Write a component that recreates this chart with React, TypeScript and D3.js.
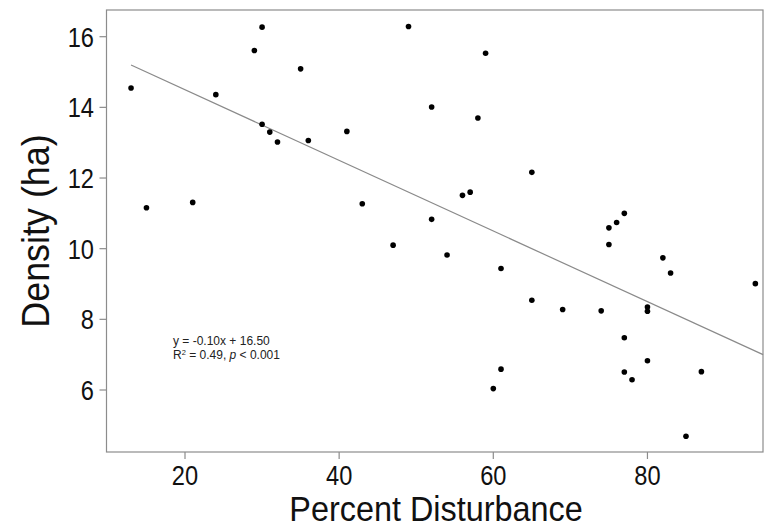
import React from "react";
import * as d3 from "d3";

const disturbance = [13, 15, 21, 24, 29, 30, 30, 31, 32, 35, 36, 41, 43, 47, 49, 52, 52, 54, 56, 57, 58, 59, 60, 61, 61, 65, 65, 69, 74, 75, 75, 76, 77, 77, 77, 78, 80, 80, 80, 82, 83, 85, 87, 94];
const density = [14.55, 11.16, 11.31, 14.36, 15.61, 16.27, 13.52, 13.3, 13.02, 15.09, 13.06, 13.32, 11.27, 10.1, 16.29, 14.01, 10.83, 9.82, 11.51, 11.6, 13.7, 15.53, 6.04, 9.44, 6.59, 12.16, 8.54, 8.28, 8.24, 10.59, 10.12, 10.74, 11.0, 7.48, 6.51, 6.29, 8.35, 8.23, 6.83, 9.74, 9.31, 4.69, 6.52, 9.01];
const xTicks = [20, 40, 60, 80];
const yTicks = [6, 8, 10, 12, 14, 16];
const slope = -0.1;
const intercept = 16.5;
const fitRange = [13, 95];

const W = 769;
const H = 529;
const left = 106.5;
const right = 763;
const top = 10;
const bottom = 452;

export default function App() {
  const x = d3.scaleLinear().domain([20, 60]).range([185, 493.3]);
  const y = d3.scaleLinear().domain([16, 6]).range([36.7, 390]);
  const gray = "#8c8c8c";
  const font = "'Liberation Sans', Arial, sans-serif";
  const line = d3
    .line<number>()
    .x((d) => x(d))
    .y((d) => y(slope * d + intercept));
  return (
    <svg width={W} height={H} style={{ position: "absolute", left: 0, top: 0, background: "#fff" }} fontFamily={font}>
      <rect x={left} y={top} width={right - left} height={bottom - top} fill="none" stroke={gray} strokeWidth={1.2} />
      {xTicks.map((t) => (
        <g key={"x" + t}>
          <line x1={x(t)} x2={x(t)} y1={bottom} y2={bottom + 7} stroke={gray} strokeWidth={1.2} />
          <g transform={`translate(${x(t)},485) scale(0.86,1)`}>
            <text textAnchor="middle" fontSize={27.5} fill="#111">
              {t}
            </text>
          </g>
        </g>
      ))}
      {yTicks.map((t) => (
        <g key={"y" + t}>
          <line x1={left - 7} x2={left} y1={y(t)} y2={y(t)} stroke={gray} strokeWidth={1.2} />
          <g transform={`translate(94,${y(t)}) scale(0.86,1)`}>
            <text dy="0.36em" textAnchor="end" fontSize={27.5} fill="#111">
              {t}
            </text>
          </g>
        </g>
      ))}
      <path d={line(fitRange) || ""} fill="none" stroke="#8a8a8a" strokeWidth={1.2} />
      {disturbance.map((d, i) => (
        <circle key={i} cx={x(d)} cy={y(density[i])} r={2.8} fill="#000" />
      ))}
      <text x={173} y={345} fontSize={12} fill="#222">
        y = -0.10x + 16.50
      </text>
      <text x={173} y={359} fontSize={12} fill="#222">
        R<tspan fontSize={7.5} dy={-4}>2</tspan>
        <tspan dy={4}> = 0.49, </tspan>
        <tspan fontStyle="italic">p</tspan> &lt; 0.001
      </text>
      <g transform="translate(436,521) scale(0.9,1)">
        <text textAnchor="middle" fontSize={36} fill="#111">
          Percent Disturbance
        </text>
      </g>
      <g transform="translate(49,231) rotate(-90) scale(0.92,1)">
        <text textAnchor="middle" fontSize={39} fill="#111">
          Density (ha)
        </text>
      </g>
    </svg>
  );
}
